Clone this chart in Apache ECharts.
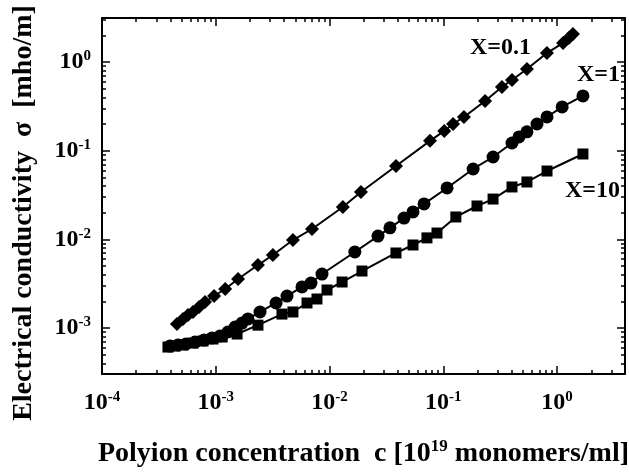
<!DOCTYPE html>
<html lang="en">
<head>
    <meta charset="UTF-8">
    <title>Electrical conductivity vs polyion concentration</title>
    <script src="https://cdn.jsdelivr.net/npm/echarts@6/dist/echarts.min.js"></script>
    <style>html, body { margin: 0; padding: 0; background: #fff; }</style>
</head>
<body>
<div id="main" style="width: 629px;height:472px;"></div>
<script type="text/javascript">
    // X = 0.1 (diamonds)
    var conc01 = [4.56e-4, 5.15e-4, 5.70e-4, 6.31e-4, 7.13e-4, 8.04e-4, 9.66e-4, 1.21e-3, 1.57e-3, 2.35e-3,
        3.18e-3, 4.77e-3, 7.02e-3, 1.31e-2, 1.89e-2, 3.84e-2, 7.65e-2, 0.102, 0.122, 0.152,
        0.233, 0.328, 0.402, 0.544, 0.816, 1.13, 1.27, 1.38];
    var sigma01 = [1.11e-3, 1.27e-3, 1.41e-3, 1.52e-3, 1.73e-3, 1.97e-3, 2.30e-3, 2.76e-3, 3.58e-3, 5.14e-3,
        6.67e-3, 9.84e-3, 1.31e-2, 2.32e-2, 3.42e-2, 6.72e-2, 0.129, 0.167, 0.200, 0.240,
        0.363, 0.523, 0.627, 0.834, 1.26, 1.64, 1.86, 2.07];
    // X = 1 (circles)
    var conc1 = [3.96e-4, 4.66e-4, 5.47e-4, 6.58e-4, 7.89e-4, 9.27e-4, 1.09e-3, 1.28e-3, 1.48e-3, 1.70e-3,
        1.92e-3, 2.45e-3, 3.39e-3, 4.23e-3, 5.73e-3, 6.87e-3, 8.59e-3, 1.67e-2, 2.67e-2, 3.40e-2,
        4.52e-2, 5.42e-2, 6.78e-2, 0.108, 0.183, 0.274, 0.402, 0.463, 0.544, 0.667,
        0.817, 1.11, 1.69];
    var sigma1 = [6.28e-4, 6.45e-4, 6.62e-4, 6.97e-4, 7.34e-4, 7.74e-4, 8.15e-4, 9.04e-4, 1.03e-3, 1.14e-3,
        1.27e-3, 1.52e-3, 1.92e-3, 2.30e-3, 2.91e-3, 3.22e-3, 4.07e-3, 7.21e-3, 1.09e-2, 1.35e-2,
        1.74e-2, 2.04e-2, 2.51e-2, 3.80e-2, 6.22e-2, 8.49e-2, 0.122, 0.143, 0.163, 0.200,
        0.240, 0.311, 0.414];
    // X = 10 (squares)
    var conc10 = [3.80e-4, 4.39e-4, 5.15e-4, 6.31e-4, 7.73e-4, 9.46e-4, 1.14e-3, 1.54e-3, 2.35e-3, 3.82e-3,
        4.77e-3, 6.34e-3, 7.76e-3, 9.51e-3, 1.29e-2, 1.93e-2, 3.84e-2, 5.42e-2, 7.19e-2, 8.81e-2,
        0.129, 0.198, 0.274, 0.402, 0.544, 0.817, 1.69];
    var sigma10 = [6.12e-4, 6.28e-4, 6.45e-4, 6.79e-4, 7.16e-4, 7.54e-4, 7.94e-4, 8.58e-4, 1.08e-3, 1.44e-3,
        1.52e-3, 1.92e-3, 2.13e-3, 2.69e-3, 3.31e-3, 4.40e-3, 7.03e-3, 8.65e-3, 1.04e-2, 1.18e-2,
        1.79e-2, 2.38e-2, 2.85e-2, 3.90e-2, 4.44e-2, 5.90e-2, 9.18e-2];

    var seriesNames = ['X=0.1', 'X=1', 'X=10'];
    var xMajor = [1e-4, 1e-3, 1e-2, 1e-1, 1];
    var yMajor = [1e-3, 1e-2, 1e-1, 1];

    // 2..9 x 10^e for each decade
    function minors(lo, hi) {
        var out = [];
        for (var e = lo; e <= hi; e++) {
            for (var k = 2; k <= 9; k++) out.push(k * Math.pow(10, e));
        }
        return out;
    }
    function pairs(xs, ys) {
        return xs.map(function (x, i) { return [x, ys[i]]; });
    }

    var FONT = 'Liberation Serif';
    var rich = {
        b: {fontFamily: FONT, fontSize: 24, fontWeight: 'bold', color: '#000'},
        sup: {fontFamily: FONT, fontSize: 15, fontWeight: 'bold', color: '#000', padding: [0, 0, 11, 0]}
    };
    function powLabel(v) {
        return '{b|10}{sup|' + Math.round(Math.log10(v)) + '}';
    }

    var xMin = 1e-4, xMax = 3.96, yMin = 3.04e-4, yMax = 3.13;
    var line = {show: true, lineStyle: {color: '#000', width: 2}};

    function xAxisDef(pos, major, withLabels) {
        return {
            type: 'log', min: xMin, max: xMax, position: pos,
            axisLine: major ? line : {show: false},
            axisTick: {inside: true, length: major ? 8 : 4, lineStyle: {color: '#000', width: 1.5},
                customValues: major ? xMajor : minors(-4, 0)},
            axisLabel: withLabels ? {show: true, margin: 16, customValues: xMajor, formatter: powLabel, rich: rich}
                : {show: false},
            splitLine: {show: false}
        };
    }
    function yAxisDef(pos, major, withLabels) {
        return {
            type: 'log', min: yMin, max: yMax, position: pos,
            axisLine: major ? line : {show: false},
            axisTick: {inside: true, length: major ? 8 : 4, lineStyle: {color: '#000', width: 1.5},
                customValues: major ? yMajor : minors(-4, 0)},
            axisLabel: withLabels ? {show: true, margin: 11, customValues: yMajor, formatter: powLabel, rich: rich}
                : {show: false},
            splitLine: {show: false}
        };
    }

    var xAxes = [xAxisDef('bottom', true, true), xAxisDef('bottom', false, false),
        xAxisDef('top', true, false), xAxisDef('top', false, false)];
    xAxes[0].name = 'Polyion concentration  c [10{sup|19} monomers/ml]';
    xAxes[0].nameLocation = 'middle';
    xAxes[0].nameGap = 64;
    xAxes[0].nameTextStyle = {fontFamily: FONT, fontSize: 28, fontWeight: 'bold', color: '#000',
        rich: {sup: {fontFamily: FONT, fontSize: 17, fontWeight: 'bold', color: '#000', padding: [0, 0, 14, 0]}}};

    var yAxes = [yAxisDef('left', true, true), yAxisDef('left', false, false),
        yAxisDef('right', true, false), yAxisDef('right', false, false)];

    function makeSeries(name, xs, ys, symbol, size) {
        return {
            name: name, type: 'line', xAxisIndex: 0, yAxisIndex: 0,
            data: pairs(xs, ys),
            symbol: symbol, symbolSize: size, showAllSymbol: true,
            itemStyle: {color: '#000'},
            lineStyle: {color: '#000', width: 2}
        };
    }

    var myChart = echarts.init(document.getElementById('main'));
    var option = {
        animation: false,
        backgroundColor: '#fff',
        grid: {left: 102, top: 18, right: 4, bottom: 98, outerBoundsMode: 'none', containLabel: false},
        xAxis: xAxes,
        yAxis: yAxes,
        series: [
            makeSeries(seriesNames[0], conc01, sigma01, 'diamond', 14),
            makeSeries(seriesNames[1], conc1, sigma1, 'circle', 13),
            makeSeries(seriesNames[2], conc10, sigma10, 'rect', 11)
        ],
        graphic: [
            {type: 'text', x: 24, y: 213, rotation: Math.PI / 2,
                style: {text: 'Electrical conductivity  \u03c3  [mho/m]', font: 'bold 28px "Liberation Serif"',
                    fill: '#000', align: 'center', verticalAlign: 'middle'}},
            {type: 'text', x: 470, y: 48,
                style: {text: seriesNames[0], font: 'bold 24px "Liberation Serif"', fill: '#000', verticalAlign: 'middle'}},
            {type: 'text', x: 577, y: 75,
                style: {text: seriesNames[1], font: 'bold 24px "Liberation Serif"', fill: '#000', verticalAlign: 'middle'}},
            {type: 'text', x: 565, y: 191,
                style: {text: seriesNames[2], font: 'bold 24px "Liberation Serif"', fill: '#000', verticalAlign: 'middle'}}
        ]
    };
    myChart.setOption(option);
</script>
</body>
</html>
